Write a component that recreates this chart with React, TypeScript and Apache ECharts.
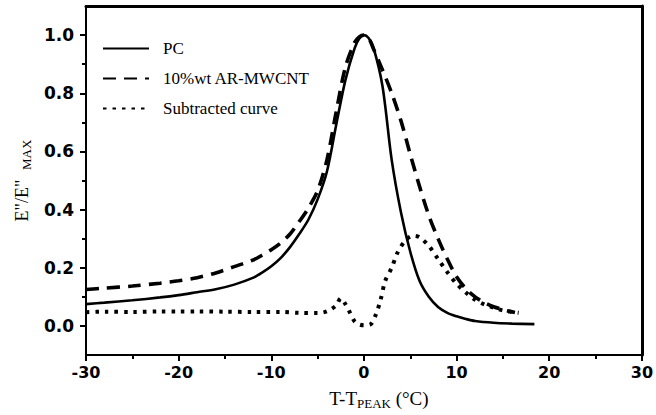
import React, { useEffect, useRef } from "react";
import * as echarts from "echarts";

const pcX = [-30, -28, -25, -22, -20, -18, -16, -14, -12, -11, -10, -9, -8, -7, -6, -5, -4, -3, -2, -1, -0.5, 0, 0.5, 1, 2, 3, 4, 5, 6, 7, 8, 9, 10, 11, 12, 14, 16, 18.4];
const pcY = [0.075, 0.08, 0.088, 0.098, 0.106, 0.116, 0.126, 0.142, 0.165, 0.183, 0.205, 0.233, 0.27, 0.315, 0.365, 0.435, 0.53, 0.69, 0.845, 0.955, 0.988, 1.0, 0.99, 0.96, 0.825, 0.57, 0.39, 0.255, 0.155, 0.1, 0.065, 0.045, 0.033, 0.024, 0.017, 0.011, 0.008, 0.006];

const cntX = [-30, -28, -25, -22, -20, -18, -16, -14, -12, -11, -10, -9, -8, -7, -6, -5, -4, -3, -2, -1, -0.5, 0, 0.5, 1, 2, 3, 4, 5, 6, 7, 8, 9, 10, 11, 12, 13, 14, 15, 16.3];
const cntY = [0.125, 0.13, 0.137, 0.147, 0.155, 0.166, 0.182, 0.204, 0.226, 0.243, 0.262, 0.285, 0.315, 0.358, 0.405, 0.465, 0.57, 0.735, 0.89, 0.975, 0.994, 1.0, 0.99, 0.955, 0.88, 0.8, 0.705, 0.59, 0.48, 0.38, 0.3, 0.23, 0.169, 0.128, 0.1, 0.08, 0.066, 0.056, 0.046];

const subX = [-30, -28, -25, -22, -20, -18, -15, -12, -9, -7, -5, -4, -3, -2.5, -2, -1.5, -1, -0.5, 0, 0.7, 1.3, 1.8, 2.3, 3, 3.6, 4.5, 5.3, 6, 7, 8, 9, 10, 11, 12, 13, 14, 15, 16.7];
const subY = [0.047, 0.049, 0.048, 0.05, 0.05, 0.05, 0.049, 0.048, 0.048, 0.045, 0.044, 0.05, 0.07, 0.095, 0.075, 0.045, 0.015, 0.005, 0.002, 0.005, 0.04, 0.09, 0.155, 0.2, 0.25, 0.295, 0.31, 0.305, 0.275, 0.23, 0.185, 0.145, 0.115, 0.09, 0.074, 0.063, 0.053, 0.045];

const yMajor = [0, 0.2, 0.4, 0.6, 0.8, 1.0];
const yMinor = [0.1, 0.3, 0.5, 0.7, 0.9];

const seriesNames = ["PC", "10%wt AR-MWCNT", "Subtracted curve"];

const zip = (xs: number[], ys: number[]) => xs.map((x, i) => [x, ys[i]]);

export default function App() {
  const ref = useRef<HTMLDivElement>(null);
  useEffect(() => {
    if (!ref.current) return;
    const chart = echarts.init(ref.current, null, { renderer: "svg" });
    const labelFont = { fontFamily: "DejaVu Sans", fontWeight: "bold", fontSize: 16, color: "#000" };
    const serif = "Liberation Serif";
    chart.setOption({
      animation: false,
      backgroundColor: "#fff",
      grid: { left: 86, right: 12, top: 6, bottom: 60 },
      legend: {
        show: true,
        orient: "vertical",
        left: 97,
        top: 35,
        itemWidth: 46,
        itemHeight: 14,
        itemGap: 13,
        itemStyle: { opacity: 0 },
        textStyle: { fontFamily: serif, fontSize: 17, color: "#000", padding: [0, 0, 0, 9] },
        data: seriesNames,
      },
      xAxis: [
        {
          type: "value",
          min: -30,
          max: 30,
          interval: 10,
          position: "bottom",
          axisLine: { show: true, onZero: false, lineStyle: { color: "#000", width: 2 } },
          axisTick: { show: true, inside: false, length: 6, lineStyle: { color: "#000", width: 2 } },
          minorTick: { show: true, splitNumber: 2, length: 4, lineStyle: { color: "#000", width: 2 } },
          axisLabel: { ...labelFont, margin: 9, formatter: (v: number) => String(v) },
          splitLine: { show: false },
          name: "{a|T-T}{b|PEAK}{a| (°C)}",
          nameLocation: "middle",
          nameGap: 34,
          nameTextStyle: {
            padding: [0, 0, 0, 30],
            rich: {
              a: { fontFamily: serif, fontSize: 19, color: "#000" },
              b: { fontFamily: serif, fontSize: 13, color: "#000", verticalAlign: "bottom", padding: [0, 0, -2, 0] },
            },
          },
        },
        {
          type: "value",
          min: -30,
          max: 30,
          position: "top",
          axisLine: { show: true, onZero: false, lineStyle: { color: "#000", width: 3 } },
          axisTick: { show: false },
          axisLabel: { show: false },
          splitLine: { show: false },
        },
      ],
      yAxis: [
        {
          type: "value",
          min: -0.1,
          max: 1.1,
          position: "left",
          axisLine: { show: true, onZero: false, lineStyle: { color: "#000", width: 2 } },
          axisTick: { show: true, length: 6, customValues: yMajor, lineStyle: { color: "#000", width: 2 } },
          axisLabel: { ...labelFont, fontSize: 17, margin: 12, customValues: yMajor, formatter: (v: number) => v.toFixed(1) },
          splitLine: { show: false },
          name: "{a|E\"/E\"}{b|   MAX}",
          nameLocation: "middle",
          nameRotate: 90,
          nameGap: 54,
          nameTextStyle: {
            rich: {
              a: { fontFamily: serif, fontSize: 18, color: "#000" },
              b: { fontFamily: serif, fontSize: 13, color: "#000", verticalAlign: "bottom", padding: [0, 0, -2, 0] },
            },
          },
        },
        {
          type: "value",
          min: -0.1,
          max: 1.1,
          position: "left",
          axisLine: { show: false, onZero: false },
          axisTick: { show: true, length: 4, customValues: yMinor, lineStyle: { color: "#000", width: 2 } },
          axisLabel: { show: false },
          splitLine: { show: false },
        },
        {
          type: "value",
          min: -0.1,
          max: 1.1,
          position: "right",
          axisLine: { show: true, onZero: false, lineStyle: { color: "#000", width: 3 } },
          axisTick: { show: false },
          axisLabel: { show: false },
          splitLine: { show: false },
        },
      ],
      series: [
        {
          name: seriesNames[0],
          type: "line",
          data: zip(pcX, pcY),
          showSymbol: false,
          symbol: "none",
          smooth: 0.3,
          color: "#000",
          lineStyle: { color: "#000", width: 2.6 },
        },
        {
          name: seriesNames[1],
          type: "line",
          data: zip(cntX, cntY),
          showSymbol: false,
          symbol: "none",
          smooth: 0.3,
          color: "#000",
          lineStyle: { color: "#000", width: 3.6, type: [13, 8] },
        },
        {
          name: seriesNames[2],
          type: "line",
          data: zip(subX, subY),
          showSymbol: false,
          symbol: "none",
          smooth: 0.3,
          color: "#000",
          lineStyle: { color: "#000", width: 4, type: [3.5, 6] },
        },
      ],
    });
    return () => chart.dispose();
  }, []);
  return <div ref={ref} style={{ width: 656, height: 415, position: "fixed", left: 0, top: 0 }} />;
}
